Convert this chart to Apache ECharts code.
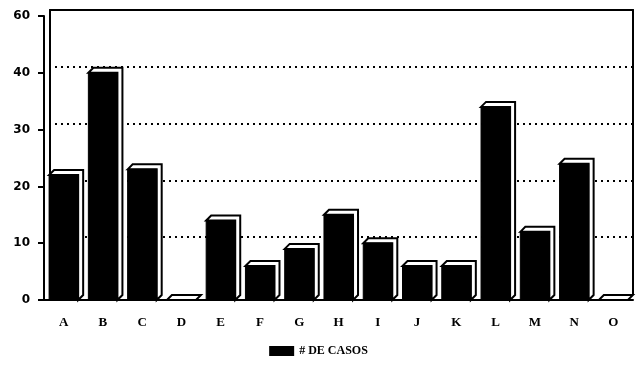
<!DOCTYPE html>
<html><head><meta charset="utf-8">
<script src="https://cdn.jsdelivr.net/npm/echarts@6/dist/echarts.min.js"></script>
<style>html,body{margin:0;padding:0;background:#fff}#c{width:637px;height:368px}</style>
</head><body><div id="c"></div>
<script>
const categories = ["A","B","C","D","E","F","G","H","I","J","K","L","M","N","O"];
const casos = [22,40,23,0,14,6,9,15,10,6,6,34,12,24,0];
const yTickLabels = ["0","10","20","30","40","60"];
const seriesName = "# DE CASOS";

const DX = 5, DY = 5;
const U = 284 / 50; // px per unit on the back wall
const chart = echarts.init(document.getElementById('c'));
chart.setOption({
  backgroundColor: '#fff',
  animation: false,
  grid: [
    {left: 44, right: 4, top: 16, bottom: 68},
    {left: 55, right: 4, top: 10 + 10 * U, bottom: 74 + 10 * U},
    {left: 50, right: 4, top: 10, bottom: 74}
  ],
  xAxis: [
    {type: 'category', gridIndex: 0, data: categories,
     axisLine: {lineStyle: {color: '#000', width: 2}},
     axisTick: {alignWithLabel: true, length: 5, lineStyle: {color: '#000', width: 2}},
     axisLabel: {color: '#000', fontFamily: 'Liberation Serif', fontWeight: 'bold', fontSize: 13, margin: 16}},
    {type: 'category', gridIndex: 1, data: categories,
     axisLine: {show: false}, axisTick: {show: false}, axisLabel: {show: false}},
    {type: 'category', gridIndex: 2, data: categories, position: 'top',
     axisLine: {onZero: false, lineStyle: {color: '#000', width: 2}}, axisTick: {show: false}, axisLabel: {show: false}}
  ],
  yAxis: [
    {type: 'value', gridIndex: 0, min: 0, max: 50, interval: 10,
     axisLine: {show: true, lineStyle: {color: '#000', width: 2}},
     axisTick: {show: true, length: 6, lineStyle: {color: '#000', width: 2}},
     splitLine: {show: false},
     axisLabel: {color: '#000', fontFamily: 'DejaVu Sans', fontWeight: 'bold', fontSize: 12, margin: 14,
       formatter: v => yTickLabels[Math.round(v / 10)]}},
    {type: 'value', gridIndex: 1, min: 10, max: 40, interval: 10,
     axisLine: {show: false}, axisTick: {show: false}, axisLabel: {show: false},
     splitLine: {show: true, lineStyle: {color: '#000', width: 2, type: [2, 4]}}},
    {type: 'value', gridIndex: 2, min: 0, max: 50, interval: 10, position: 'left',
     axisLine: {show: true, onZero: false, lineStyle: {color: '#000', width: 2}}, axisTick: {show: false}, axisLabel: {show: false},
     splitLine: {show: false}},
    {type: 'value', gridIndex: 2, min: 0, max: 50, interval: 10, position: 'right',
     axisLine: {show: true, onZero: false, lineStyle: {color: '#000', width: 2}}, axisTick: {show: false}, axisLabel: {show: false},
     splitLine: {show: false}}
  ],
  legend: {
    bottom: 6, left: 'center', itemWidth: 25, itemHeight: 10, itemGap: 6,
    data: [{name: seriesName, icon: 'rect', itemStyle: {color: '#000'}}],
    textStyle: {color: '#000', fontFamily: 'Liberation Serif', fontWeight: 'bold', fontSize: 12}
  },
  series: [{
    type: 'custom', name: seriesName, xAxisIndex: 0, yAxisIndex: 0,
    itemStyle: {color: '#000'},
    data: casos.map((v, i) => [i, v]),
    renderItem: function (params, api) {
      const top = api.coord([api.value(0), api.value(1)]);
      const base = api.coord([api.value(0), 0]);
      const bw = api.size([1, 0])[0] * 0.74;
      const l = top[0] - bw / 2, r = top[0] + bw / 2, t = top[1], b = base[1];
      return {type: 'group', children: [
        {type: 'polygon', shape: {points: [[l, t], [l + DX, t - DY], [r + DX, t - DY], [r + DX, b - DY], [r, b], [r, t]]},
         style: {fill: '#fff', stroke: '#000', lineWidth: 2}},
        {type: 'rect', shape: {x: l, y: t, width: bw, height: b - t},
         style: {fill: '#000', stroke: '#000', lineWidth: 1}}
      ]};
    }
  }]
});
</script></body></html>
